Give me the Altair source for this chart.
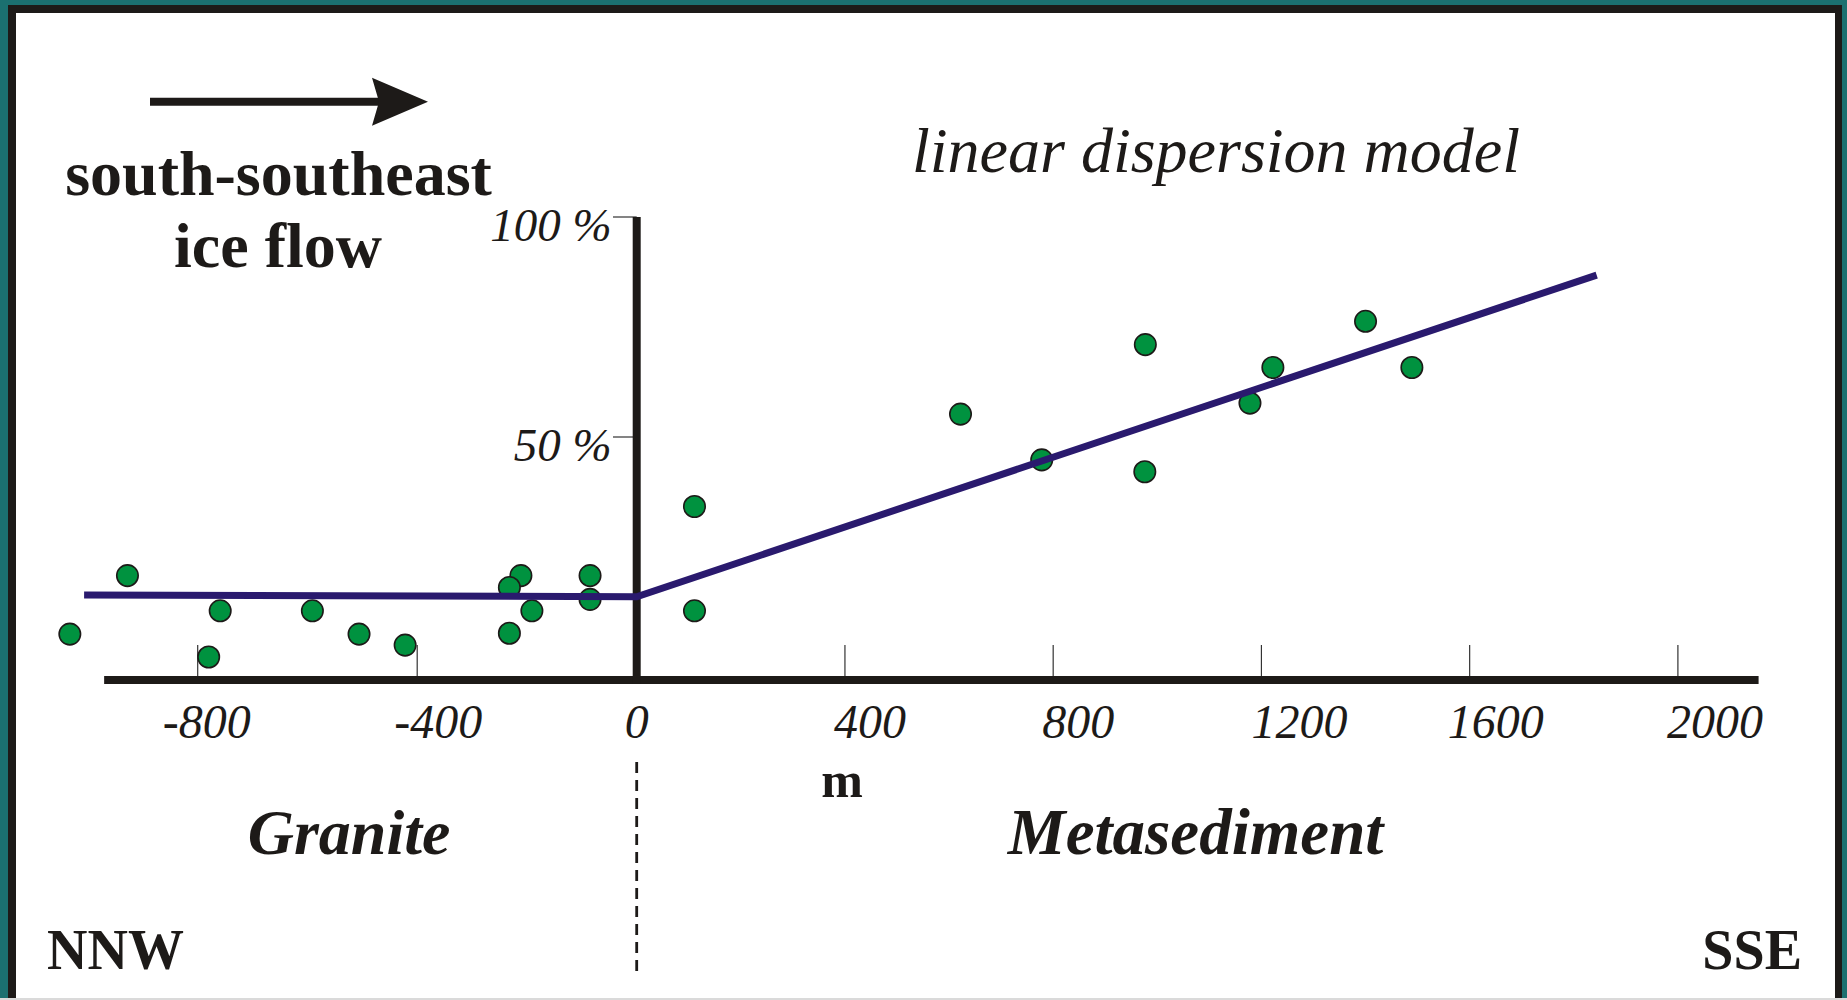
import altair as alt
import pandas as pd

# ---- data ----
dist_m = [-1033, -928, -759, -780, -591, -506, -422, -211, -232, -191, -232, -85, -85,
          111, 111, 622, 778, 977, 976, 1222, 1178, 1400, 1489]
pct = [5.2, 18.5, 10.5, 0.0, 10.5, 5.2, 2.7, 18.5, 15.8, 10.5, 5.4, 18.5, 13.1,
       34.2, 10.5, 55.2, 44.8, 71.0, 42.1, 65.8, 57.7, 76.3, 65.8]

model_x = [-1007, 0, 1844]
model_y = [14.1, 13.7, 86.8]

x_tick_values = [-800, -400, 0, 400, 800, 1200, 1600, 2000]
x_tick_labels = ["-800", "-400", "0", "400", "800", "1200", "1600", "2000"]
y_tick_values = [50, 100]
y_tick_labels = ["50 %", "100 %"]

x_axis_extent = [-970.5, 2155]

points = pd.DataFrame({"dist": dist_m, "pct": pct})
model = pd.DataFrame({"dist": model_x, "pct": model_y})
xt = pd.DataFrame({"v": x_tick_values, "lbl": x_tick_labels})
yt = pd.DataFrame({"v": y_tick_values, "lbl": y_tick_labels})
one = pd.DataFrame({"k": [0]})

INK = "#1d1a18"
FONT = "Liberation Serif"

# horizontal shift (px) of each tick label relative to its tick, as drawn in the original
LABEL_SHIFT = {-800: 9, -400: 21, 0: 0, 400: 25, 800: 25, 1200: 38, 1600: 26, 2000: 37}

xs = alt.Scale(domain=[-800, 0, 2000], range=[197.7, 636.7, 1677.9], nice=False, zero=False)
ys = alt.Scale(domain=[0, 100], range=[657, 217], nice=False, zero=False)


def X(field=None, datum=None):
    if datum is not None:
        return alt.X(datum=datum, type="quantitative", scale=xs, axis=None)
    return alt.X(field, type="quantitative", scale=xs, axis=None)


def Y(field=None, datum=None):
    if datum is not None:
        return alt.Y(datum=datum, type="quantitative", scale=ys, axis=None)
    return alt.Y(field, type="quantitative", scale=ys, axis=None)


def label(text, x, y, size, weight="normal", style="normal", align="center"):
    return alt.Chart(one).mark_text(
        text=text, font=FONT, fontSize=size, fontWeight=weight, fontStyle=style,
        align=align, baseline="alphabetic", color=INK
    ).encode(x=alt.value(x), y=alt.value(y))


# frame
panel = alt.Chart(one).mark_rect(color="white").encode(
    x=alt.value(8), x2=alt.value(1842), y=alt.value(5), y2=alt.value(1000))
frame_l = alt.Chart(one).mark_rule(color=INK, strokeWidth=8).encode(
    x=alt.value(12), y=alt.value(5), y2=alt.value(1000))
frame_t = alt.Chart(one).mark_rule(color=INK, strokeWidth=8).encode(
    x=alt.value(8), x2=alt.value(1842), y=alt.value(9))
frame_r = alt.Chart(one).mark_rule(color=INK, strokeWidth=7).encode(
    x=alt.value(1838.5), y=alt.value(5), y2=alt.value(1000))
frame_b = alt.Chart(one).mark_rule(color="#dadada", strokeWidth=2).encode(
    x=alt.value(0), x2=alt.value(1847), y=alt.value(999))

# axes
x_axis = alt.Chart(one).mark_rule(color=INK, strokeWidth=8).encode(
    x=X(datum=x_axis_extent[0]), x2=alt.X2(datum=x_axis_extent[1]), y=alt.value(680))
y_axis = alt.Chart(one).mark_rule(color=INK, strokeWidth=8).encode(
    x=X(datum=0), y=Y(datum=100), y2=alt.value(684))
x_ticks = alt.Chart(xt).transform_filter("datum.v != 0").mark_rule(
    color="#333333", strokeWidth=1.2).encode(x=X("v"), y=alt.value(645), y2=alt.value(680))
y_ticks = alt.Chart(yt).mark_rule(color="#333333", strokeWidth=1.2).encode(
    y=Y("v"), x=alt.value(613), x2=alt.value(636.7))

x_labels = [
    alt.Chart(xt).transform_filter(f"datum.v == {v}").mark_text(
        font=FONT, fontSize=48, fontStyle="italic", color=INK, baseline="alphabetic",
        align="center", dx=LABEL_SHIFT[v]).encode(x=X("v"), y=alt.value(738.3), text="lbl:N")
    for v in x_tick_values
]
y_lab = alt.Chart(yt).mark_text(
    font=FONT, fontSize=47, fontStyle="italic", color=INK, baseline="alphabetic",
    align="right", dy=24).encode(y=Y("v"), x=alt.value(611.7), text="lbl:N")

# boundary dashed line
boundary = alt.Chart(one).mark_rule(color=INK, strokeWidth=2.8, strokeDash=[11, 7]).encode(
    x=X(datum=0), y=alt.value(762), y2=alt.value(977))

# data
dots = alt.Chart(points).mark_point(
    shape="circle", filled=True, fill="#00923f", stroke=INK, strokeWidth=1.6,
    size=460, opacity=1).encode(x=X("dist"), y=Y("pct"))
line = alt.Chart(model).mark_line(color="#2a1a6e", strokeWidth=7).encode(
    x=X("dist"), y=Y("pct"), order="dist:Q")

# arrow
shaft = alt.Chart(one).mark_rule(color=INK, strokeWidth=8).encode(
    x=alt.value(150), x2=alt.value(392), y=alt.value(101.7))
head = alt.Chart(one).mark_point(
    shape="M1,0L-1,-0.857L-0.75,0L-1,0.857Z", filled=True, color=INK,
    strokeWidth=0, size=3136, opacity=1).encode(x=alt.value(400), y=alt.value(101.7))

texts = [
    label("south-southeast", 278.5, 195, 64, weight="bold"),
    label("ice flow", 278, 266.7, 64, weight="bold"),
    label("linear dispersion model", 1216, 171.7, 64, style="italic"),
    label("m", 842, 796.7, 50, weight="bold"),
    label("Granite", 349, 854, 64, weight="bold", style="italic"),
    label("Metasediment", 1195.6, 854, 65, weight="bold", style="italic"),
    label("NNW", 47, 969, 56, weight="bold", align="left"),
    label("SSE", 1802, 969, 56, weight="bold", align="right"),
]

chart = alt.layer(
    panel, frame_l, frame_t, frame_r, frame_b,
    x_ticks, y_ticks, x_axis, y_axis, boundary,
    dots, line, *x_labels, y_lab,
    shaft, head, *texts
).properties(
    width=1847, height=1000, padding=0, autosize="none", background="#1b7070"
).configure_view(strokeWidth=0)

chart.save("out.html", embed_options={"renderer": "svg", "actions": False})
